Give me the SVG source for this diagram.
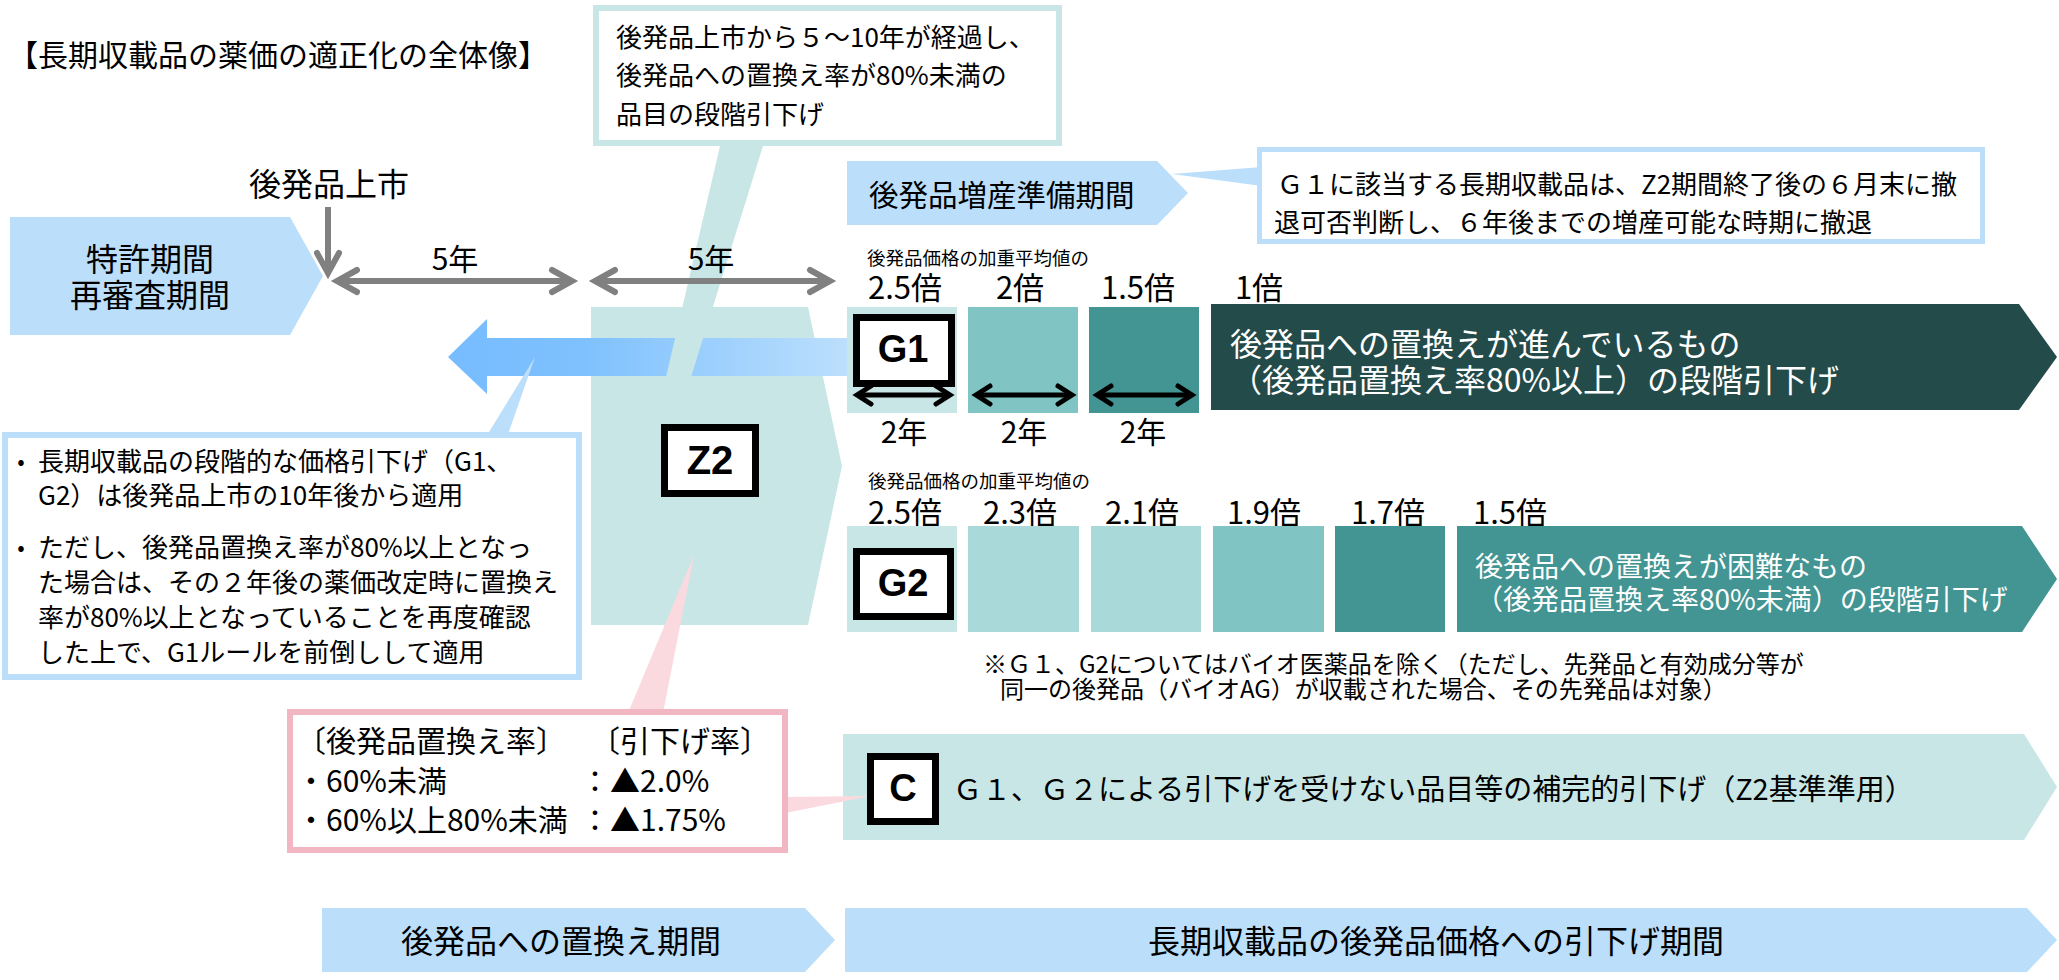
<svg xmlns="http://www.w3.org/2000/svg" width="2059" height="980" viewBox="0 0 2059 980">
<style>
.jp{font-family:"Noto Sans CJK JP","Noto Sans",sans-serif;dominant-baseline:central;fill:#000}
.c{text-anchor:middle}
.w{fill:#fff}
.bd{font-family:"Liberation Sans",Arial,sans-serif;font-weight:bold;text-anchor:middle;dominant-baseline:central;fill:#000}
.lb{fill:#BBDEFB}
.lt{fill:#C8E6E5}
.lbl{fill:#fff;stroke:#000;stroke-width:7}
.gl{stroke:#808080;stroke-width:6;fill:none}
.bl{stroke:#000;stroke-width:5;fill:none}
</style>
<defs>
<marker id="gh" markerUnits="userSpaceOnUse" viewBox="-30 -18 40 36" refX="0" refY="0" markerWidth="40" markerHeight="36" orient="auto-start-reverse">
<path d="M-20,-11 L0,0 L-20,11" fill="none" stroke="#808080" stroke-width="6" stroke-linecap="round"/>
</marker>
<marker id="bh" markerUnits="userSpaceOnUse" viewBox="-24 -16 34 32" refX="0" refY="0" markerWidth="34" markerHeight="32" orient="auto-start-reverse">
<path d="M-14,-9 L0,0 L-14,9" fill="none" stroke="#000" stroke-width="5" stroke-linecap="round"/>
</marker>
<linearGradient id="bg" gradientUnits="userSpaceOnUse" x1="448" y1="0" x2="847" y2="0">
<stop offset="0" stop-color="#76BCFF"/>
<stop offset="0.35" stop-color="#7FC1FE"/>
<stop offset="1" stop-color="#BCDFFC"/>
</linearGradient>
</defs>
<rect width="2059" height="980" fill="#fff"/>

<g id="title"><text class="jp" x="8" y="53" font-size="30">【長期収載品の薬価の適正化の全体像】</text></g>

<g id="patent">
<polygon class="lb" points="10,217 290,217 323,276 290,335 10,335"/>
<text class="jp c" x="150" y="257" font-size="32">特許期間</text>
<text class="jp c" x="150" y="293" font-size="32">再審査期間</text>
</g>

<g id="launch"><text class="jp c" x="329" y="182" font-size="32">後発品上市</text></g>

<g id="z2">
<polygon class="lt" points="591,307 808,307 842,466 808,625 591,625"/>
</g>

<g id="prep">
<polygon class="lb" points="847,161 1157,161 1188,193 1157,225 847,225"/>
<text class="jp" x="869" y="193" font-size="29.5">後発品増産準備期間</text>
</g>

<g id="g1row">
<text class="jp" x="867" y="257" font-size="18.5">後発品価格の加重平均値の</text>
<text class="jp c" x="905" y="285" font-size="31">2.5倍</text>
<text class="jp c" x="1020" y="285" font-size="31">2倍</text>
<text class="jp c" x="1138" y="285" font-size="31">1.5倍</text>
<text class="jp c" x="1259" y="285" font-size="31">1倍</text>
<rect class="lt" x="847" y="307" width="110" height="106"/>
<rect x="968" y="307" width="110" height="106" fill="#80C5C3"/>
<rect x="1089" y="307" width="110" height="106" fill="#429593"/>
<text class="jp c" x="904" y="430" font-size="30">2年</text>
<text class="jp c" x="1024" y="430" font-size="30">2年</text>
<text class="jp c" x="1143" y="430" font-size="30">2年</text>
</g>

<g id="g1arrow">
<polygon points="1211,304 2019,304 2057,357 2019,410 1211,410" fill="#234B4A"/>
<text class="jp w" x="1230" y="342" font-size="32">後発品への置換えが進んでいるもの</text>
<text class="jp w" x="1230" y="378" font-size="32">（後発品置換え率80%以上）の段階引下げ</text>
</g>

<g id="g2row">
<text class="jp" x="868" y="480" font-size="18.5">後発品価格の加重平均値の</text>
<text class="jp c" x="905" y="510" font-size="31">2.5倍</text>
<text class="jp c" x="1020" y="510" font-size="31">2.3倍</text>
<text class="jp c" x="1142" y="510" font-size="31">2.1倍</text>
<text class="jp c" x="1264" y="510" font-size="31">1.9倍</text>
<text class="jp c" x="1388" y="510" font-size="31">1.7倍</text>
<text class="jp c" x="1510" y="510" font-size="31">1.5倍</text>
<rect class="lt" x="847" y="526" width="110" height="106"/>
<rect x="968" y="526" width="111" height="106" fill="#A9D9D8"/>
<rect x="1091" y="526" width="110" height="106" fill="#A9D9D8"/>
<rect x="1213" y="526" width="111" height="106" fill="#80C5C3"/>
<rect x="1335" y="526" width="110" height="106" fill="#429593"/>
</g>

<g id="g2arrow">
<polygon points="1457,526 2022,526 2057,579 2022,632 1457,632" fill="#429593"/>
<text class="jp w" x="1475" y="565" font-size="28">後発品への置換えが困難なもの</text>
<text class="jp w" x="1475" y="598" font-size="28">（後発品置換え率80%未満）の段階引下げ</text>
</g>

<g id="note">
<text class="jp" x="983" y="662" font-size="24">※Ｇ１、G2についてはバイオ医薬品を除く（ただし、先発品と有効成分等が</text>
<text class="jp" x="1000" y="687" font-size="24">同一の後発品（バイオAG）が収載された場合、その先発品は対象）</text>
</g>

<g id="crow">
<polygon class="lt" points="843,734 2024,734 2057,787 2024,840 843,840"/>
<text class="jp" x="953" y="787" font-size="29">Ｇ１、Ｇ２による引下げを受けない品目等の補完的引下げ（Z2基準準用）</text>
</g>

<g id="period1">
<polygon class="lb" points="322,908 805,908 835,940 805,972 322,972"/>
<text class="jp c" x="561" y="939" font-size="32">後発品への置換え期間</text>
</g>
<g id="period2">
<polygon class="lb" points="845,908 2027,908 2057,940 2027,972 845,972"/>
<text class="jp c" x="1436" y="939" font-size="32">長期収載品の後発品価格への引下げ期間</text>
</g>

<g id="back-arrow">
<polygon points="448,357 487,319 487,338 847,338 847,376 487,376 487,394" fill="url(#bg)"/>
</g>

<g id="callout-top">
<polygon class="lt" points="720,146 763,146 687,390 663,390"/>
<rect x="596" y="8" width="463" height="135" fill="#fff" stroke="#C8E6E5" stroke-width="6"/>
<text class="jp" x="616" y="35" font-size="26">後発品上市から５～10年が経過し、</text>
<text class="jp" x="616" y="73" font-size="26">後発品への置換え率が80%未満の</text>
<text class="jp" x="616" y="112" font-size="26">品目の段階引下げ</text>
</g>

<g id="connectors">
<line class="gl" x1="328" y1="207" x2="328" y2="273" marker-end="url(#gh)"/>
<line class="gl" x1="337" y1="281" x2="572" y2="281" marker-start="url(#gh)" marker-end="url(#gh)"/>
<line class="gl" x1="595" y1="281" x2="830" y2="281" marker-start="url(#gh)" marker-end="url(#gh)"/>
<line class="bl" x1="857" y1="395" x2="950" y2="395" marker-start="url(#bh)" marker-end="url(#bh)"/>
<line class="bl" x1="976" y1="395" x2="1072" y2="395" marker-start="url(#bh)" marker-end="url(#bh)"/>
<line class="bl" x1="1097" y1="395" x2="1192" y2="395" marker-start="url(#bh)" marker-end="url(#bh)"/>
</g>

<g id="y5a"><text class="jp c" x="455" y="257" font-size="30">5年</text></g>
<g id="y5b"><text class="jp c" x="711" y="257" font-size="30">5年</text></g>

<g id="callout-g1">
<polygon class="lb" points="1172,174 1262,167 1262,186"/>
<rect x="1259.5" y="149.5" width="723" height="92" fill="#fff" stroke="#BBDEFB" stroke-width="5"/>
<text class="jp" x="1277" y="182" font-size="26">Ｇ１に該当する長期収載品は、Z2期間終了後の６月末に撤</text>
<text class="jp" x="1274" y="220" font-size="26">退可否判断し、６年後までの増産可能な時期に撤退</text>
</g>

<g id="callout-left">
<polygon class="lb" points="535,357 486,437 507,437"/>
<rect x="5" y="435" width="574" height="242" fill="#fff" stroke="#BBDEFB" stroke-width="6"/>
<text class="jp c" x="21" y="459" font-size="22">•</text>
<text class="jp" x="38" y="459" font-size="26">長期収載品の段階的な価格引下げ（G1、</text>
<text class="jp" x="38" y="493" font-size="26">G2）は後発品上市の10年後から適用</text>
<text class="jp c" x="21" y="545" font-size="22">•</text>
<text class="jp" x="38" y="545" font-size="26">ただし、後発品置換え率が80%以上となっ</text>
<text class="jp" x="38" y="580" font-size="26">た場合は、その２年後の薬価改定時に置換え</text>
<text class="jp" x="38" y="615" font-size="26">率が80%以上となっていることを再度確認</text>
<text class="jp" x="38" y="650" font-size="26">した上で、G1ルールを前倒しして適用</text>
</g>

<g id="callout-pink">
<polygon points="694,555 628,713 663,713" fill="#FBDADF"/>
<polygon points="785,797 785,813 871,796" fill="#FBDADF"/>
<rect x="290" y="712" width="495" height="138" fill="#fff" stroke="#F2B6C3" stroke-width="6"/>
<text class="jp" x="296" y="739" font-size="30">〔後発品置換え率〕</text>
<text class="jp" x="590" y="739" font-size="30">〔引下げ率〕</text>
<text class="jp" x="296" y="779" font-size="30">・60%未満</text>
<text class="jp" x="580" y="779" font-size="30">：▲2.0%</text>
<text class="jp" x="296" y="818" font-size="30">・60%以上80%未満</text>
<text class="jp" x="580" y="818" font-size="30">：▲1.75%</text>
</g>

<g id="label-z2">
<rect class="lbl" x="664.5" y="427.5" width="91" height="66"/>
<text class="bd" x="710" y="460" font-size="40">Z2</text>
</g>
<g id="label-g1">
<rect class="lbl" x="856.5" y="317.5" width="95" height="66"/>
<text class="bd" x="903" y="349" font-size="38">G1</text>
</g>
<g id="label-g2">
<rect class="lbl" x="856.5" y="551.5" width="94" height="65"/>
<text class="bd" x="903" y="583" font-size="38">G2</text>
</g>
<g id="label-c">
<rect class="lbl" x="870.5" y="756.5" width="65" height="65"/>
<text class="bd" x="903" y="788" font-size="38">C</text>
</g>
</svg>
